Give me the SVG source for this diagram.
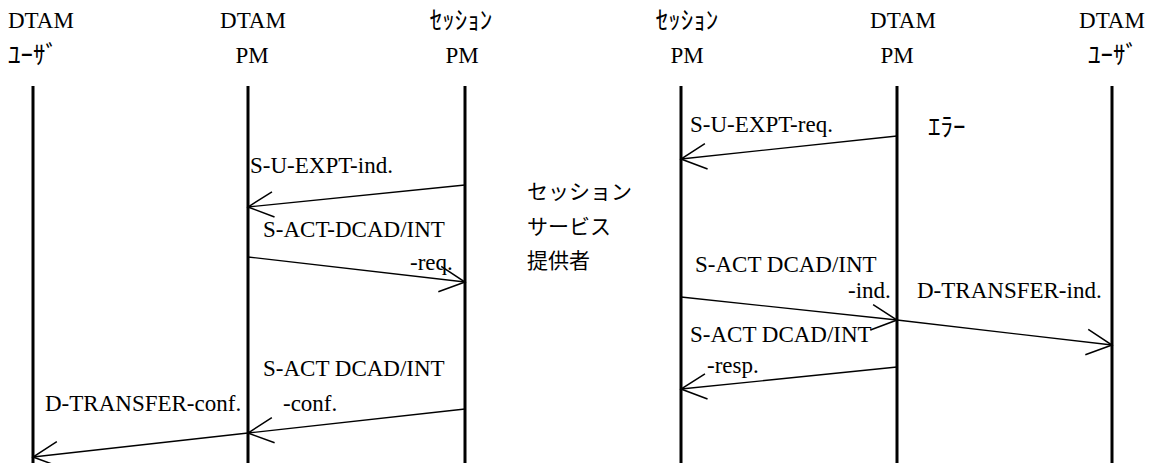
<svg xmlns="http://www.w3.org/2000/svg" width="1149" height="463" viewBox="0 0 1149 463">
<defs>
<style>
.t{font-family:"Liberation Serif","Times New Roman",serif;font-size:23px;fill:#000}
.k{font-family:"Noto Sans CJK JP",sans-serif;font-size:25px;fill:#000}
.j{font-family:"Noto Sans CJK JP",sans-serif;font-size:21px;fill:#000}
.life{stroke:#000;stroke-width:3;fill:none}
.msg{stroke:#000;stroke-width:1.3;fill:none;marker-end:url(#ah)}
</style>
<marker id="ah" markerUnits="userSpaceOnUse" markerWidth="30" markerHeight="30" viewBox="-24 -13 26 26" refX="0" refY="0" orient="auto" overflow="visible">
<path d="M-22,-11 L0,0 L-22,11" fill="none" stroke="#000" stroke-width="1.3"/>
</marker>
</defs>
<rect width="1149" height="463" fill="#fff"/>
<g id="user-left">
<text class="t" x="8" y="28">DTAM</text>
<text class="k" x="8" y="64">ﾕｰｻﾞ</text>
<line class="life" x1="33" y1="86" x2="33" y2="463"/>
</g>
<g id="dtam-pm-left">
<text class="t" x="253" y="28" text-anchor="middle">DTAM</text>
<text class="t" x="252" y="63" text-anchor="middle">PM</text>
<line class="life" x1="248" y1="86" x2="248" y2="463"/>
</g>
<g id="session-pm-left">
<text class="k" x="461" y="29" text-anchor="middle">ｾｯｼｮﾝ</text>
<text class="t" x="462" y="63" text-anchor="middle">PM</text>
<line class="life" x1="465" y1="86" x2="465" y2="463"/>
</g>
<g id="session-pm-right">
<text class="k" x="687" y="29" text-anchor="middle">ｾｯｼｮﾝ</text>
<text class="t" x="687" y="63" text-anchor="middle">PM</text>
<line class="life" x1="681" y1="86" x2="681" y2="463"/>
</g>
<g id="dtam-pm-right">
<text class="t" x="903" y="28" text-anchor="middle">DTAM</text>
<text class="t" x="897" y="63" text-anchor="middle">PM</text>
<line class="life" x1="897" y1="86" x2="897" y2="463"/>
</g>
<g id="user-right">
<text class="t" x="1112" y="28" text-anchor="middle">DTAM</text>
<text class="k" x="1113" y="64" text-anchor="middle">ﾕｰｻﾞ</text>
<line class="life" x1="1112" y1="86" x2="1112" y2="463"/>
</g>
<g id="provider">
<text class="j" x="527" y="199">セッション</text>
<text class="j" x="527" y="234">サービス</text>
<text class="j" x="527" y="268">提供者</text>
</g>
<g id="connectors">
<line class="msg" x1="465" y1="185" x2="248" y2="207"/>
<line class="msg" x1="248" y1="257" x2="465" y2="282"/>
<line class="msg" x1="465" y1="409" x2="248" y2="433"/>
<line class="msg" x1="248" y1="433" x2="33" y2="457"/>
<line class="msg" x1="897" y1="136" x2="681" y2="159"/>
<line class="msg" x1="681" y1="297" x2="897" y2="320"/>
<line class="msg" x1="897" y1="320" x2="1112" y2="345"/>
<line class="msg" x1="897" y1="367" x2="681" y2="389"/>
</g>
<g id="labels">
<text class="t" x="250" y="173">S-U-EXPT-ind.</text>
<text class="t" x="263" y="237">S-ACT-DCAD/INT</text>
<text class="t" x="410" y="270">-req.</text>
<text class="t" x="263" y="376">S-ACT DCAD/INT</text>
<text class="t" x="283" y="411">-conf.</text>
<text class="t" x="45" y="411">D-TRANSFER-conf.</text>
<text class="t" x="690" y="132">S-U-EXPT-req.</text>
<text class="k" x="928" y="136">ｴﾗｰ</text>
<text class="t" x="695" y="272">S-ACT DCAD/INT</text>
<text class="t" x="848" y="298">-ind.</text>
<text class="t" x="917" y="298">D-TRANSFER-ind.</text>
<text class="t" x="690" y="342">S-ACT DCAD/INT</text>
<text class="t" x="707" y="373">-resp.</text>
</g>
</svg>
